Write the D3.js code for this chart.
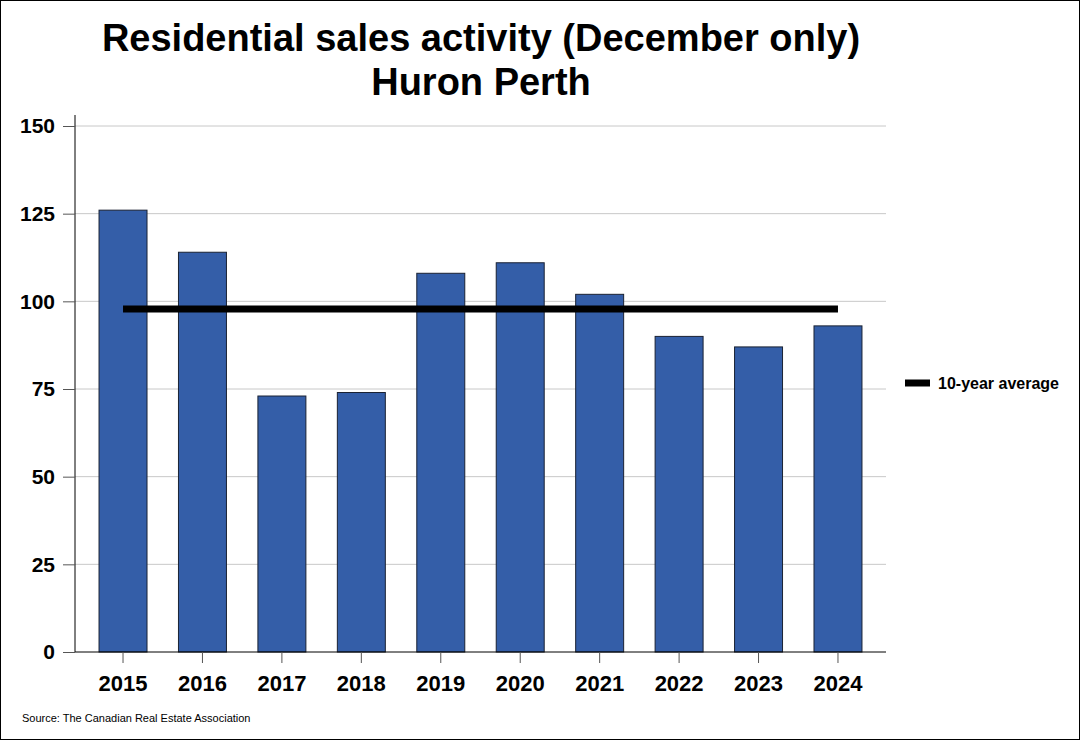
<!DOCTYPE html>
<html><head><meta charset="utf-8">
<script src="https://cdn.jsdelivr.net/npm/d3@7"></script>
<style>body{margin:0;background:#fff}svg{display:block;font-family:"Liberation Sans",Arial,sans-serif}</style>
</head><body>
<script>
const years = ["2015","2016","2017","2018","2019","2020","2021","2022","2023","2024"];
const sales = [126,114,73,74,108,111,102,90,87,93];
const yTicks = [0,25,50,75,100,125,150];
const titleLines = ["Residential sales activity (December only)","Huron Perth"];
const legendLabel = "10-year average";
const sourceText = "Source: The Canadian Real Estate Association";

const W=1080,H=740;
const svg=d3.select("body").append("svg").attr("width",W).attr("height",H);
svg.append("rect").attr("x",0.5).attr("y",0.5).attr("width",W-1).attr("height",H-1).attr("fill","#fff").attr("stroke","#000");

const x=d3.scaleBand().domain(years).range([83.3,877.7]).paddingInner(0.396).paddingOuter(0.198);
const y=d3.scaleLinear().domain([0,150]).range([652,126]);
const axL=75, axR=886;

// gridlines
svg.append("g").selectAll("line").data(yTicks.filter(d=>d>0)).join("line")
 .attr("x1",axL).attr("x2",axR).attr("y1",d=>y(d)).attr("y2",d=>y(d))
 .attr("stroke","#c8c8c8").attr("stroke-width",1);

// bars
svg.append("g").selectAll("rect").data(sales).join("rect")
 .attr("x",(d,i)=>x(years[i])).attr("width",x.bandwidth())
 .attr("y",d=>y(d)).attr("height",d=>y(0)-y(d))
 .attr("fill","#345ea8").attr("stroke","#1a2233").attr("stroke-width",1);

// average line
const avg=d3.mean(sales);
svg.append("line").attr("x1",x(years[0])+x.bandwidth()/2).attr("x2",x(years[years.length-1])+x.bandwidth()/2)
 .attr("y1",y(avg)).attr("y2",y(avg)).attr("stroke","#000").attr("stroke-width",7);

// y axis
const ya=svg.append("g").attr("transform",`translate(${axL},0)`).call(d3.axisLeft(y).tickValues(yTicks).tickSize(12).tickPadding(8));
ya.select(".domain").attr("d",`M0,${y(150)-11}V${y(0)}`).attr("stroke","#000");
ya.selectAll(".tick line").attr("stroke","#555");
ya.selectAll("text").attr("font-size",21).attr("font-weight","bold").attr("fill","#000").attr("font-family","Liberation Sans, Arial, sans-serif");

// x axis
const xa=svg.append("g").attr("transform",`translate(0,${y(0)})`).call(d3.axisBottom(x).tickSize(11).tickPadding(12));
xa.select(".domain").attr("d",`M${axL},0H${axR}`).attr("stroke","#000");
xa.selectAll(".tick line").attr("stroke","#555");
xa.selectAll("text").attr("font-size",22).attr("font-weight","bold").attr("fill","#000").attr("font-family","Liberation Sans, Arial, sans-serif");

// title
svg.append("g").selectAll("text").data(titleLines).join("text")
 .attr("x",481).attr("y",(d,i)=>51+i*44).attr("text-anchor","middle")
 .attr("font-size",38).attr("font-weight","bold").text(d=>d);

// legend
svg.append("line").attr("x1",905).attr("x2",930).attr("y1",383).attr("y2",383).attr("stroke","#000").attr("stroke-width",7);
svg.append("text").attr("x",938).attr("y",388.5).attr("font-size",16).attr("font-weight","bold").text(legendLabel);

// source
svg.append("text").attr("x",22).attr("y",722).attr("font-size",11).text(sourceText);
</script>
</body></html>
